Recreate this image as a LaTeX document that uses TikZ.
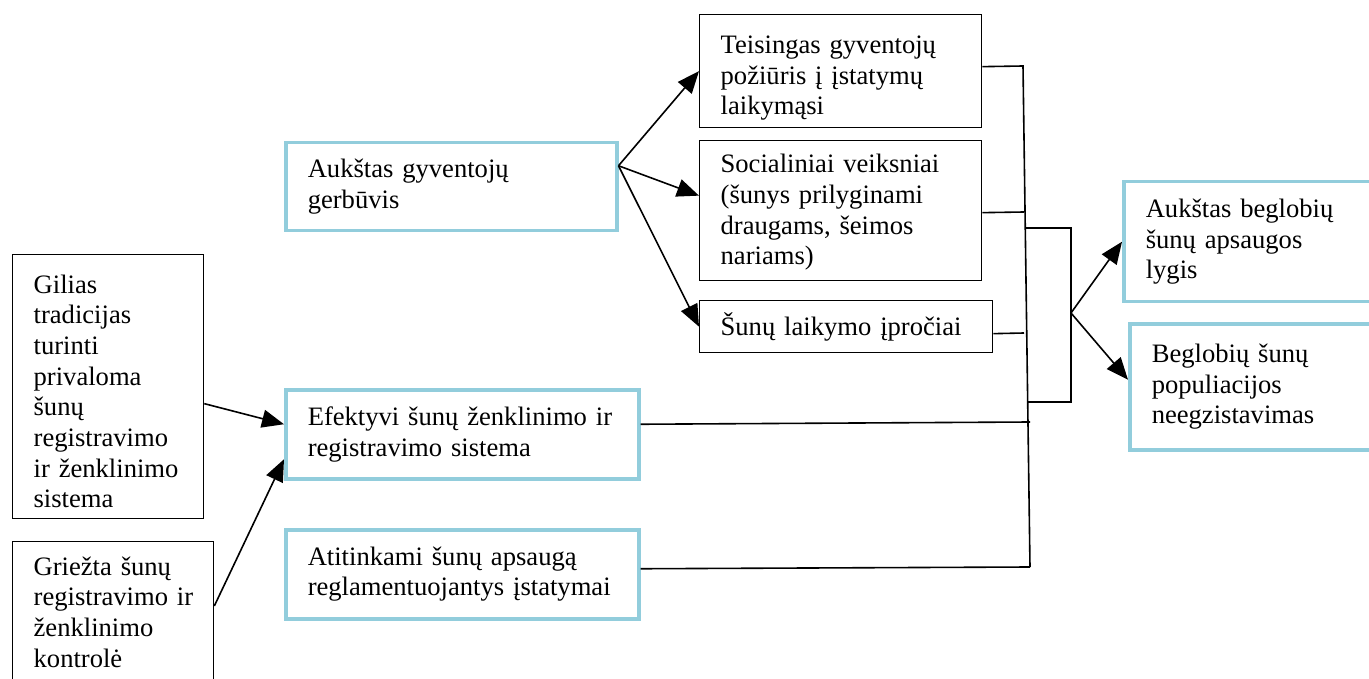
\documentclass[tikz,border=0pt]{standalone}
\usepackage{fontspec}
\setmainfont{Liberation Serif}
\usetikzlibrary{arrows.meta}
\definecolor{boxblue}{RGB}{146,205,220}
\newcommand\toprule[1]{\rule{0pt}{#1}}
\begin{document}
\begin{tikzpicture}[x=1pt,y=-1pt,
  every node/.style={font=\fontsize{26.6}{30.7}\selectfont},
  bbox/.style={draw=black,line width=1.3pt,anchor=north west,inner xsep=21pt,inner ysep=0pt,align=left},
  cbox/.style={draw=boxblue,line width=3.5pt,anchor=north west,inner xsep=22pt,inner ysep=0pt,align=left},
  arr/.style={line width=1.6pt,-{Triangle[length=22pt,width=18pt]}},
  ln/.style={line width=1.6pt}]
\useasboundingbox (0,0) rectangle (1369,679);
% top right column
\node[bbox,text width=240pt,minimum height=113pt] (T1) at (699,14) {\toprule{32pt}Teisingas gyventojų\\požiūris į įstatymų\\laikymąsi};
\node[bbox,text width=240pt,minimum height=140pt] (T2) at (699,140) {\toprule{22pt}Socialiniai veiksniai\\(šunys prilyginami\\draugams, šeimos\\nariams)};
\node[bbox,text width=251pt,minimum height=52pt] (T3) at (699,300) {Šunų laikymo įpročiai};
% middle column
\node[cbox,text width=287pt,minimum height=88pt] (A) at (284,141) {Aukštas gyventojų\\gerbūvis};
\node[cbox,text width=309pt,minimum height=89pt] (E) at (284,388) {Efektyvi šunų ženklinimo ir\\registravimo sistema};
\node[cbox,text width=309pt,minimum height=89pt] (At) at (284,528) {Atitinkami šunų apsaugą\\reglamentuojantys įstatymai};
% left column
\node[bbox,text width=149pt,minimum height=264pt] (G) at (12,254) {\toprule{28pt}Gilias\\tradicijas\\turinti\\privaloma\\šunų\\registravimo\\ir~ženklinimo\\sistema};
\node[bbox,text width=159pt,minimum height=141pt] (Gr) at (12,541) {Griežta~šunų\\registravimo~ir\\ženklinimo\\kontrolė};
% right column
\node[cbox,text width=236pt,minimum height=120pt] (R1) at (1122,180) {Aukštas beglobių\\šunų apsaugos\\lygis};
\node[cbox,text width=236pt,minimum height=126pt] (R2) at (1128,322) {Beglobių šunų\\populiacijos\\neegzistavimas};
% arrows from A
\draw[arr] ([yshift=21pt]A.east) -- (T1.west);
\draw[arr] ([yshift=21pt]A.east) -- ([yshift=15pt]T2.west);
\draw[arr] ([yshift=21pt]A.east) -- (T3.west);
% arrows into E
\draw[arr] ([yshift=-17pt]G.east) -- ([yshift=10pt]E.west);
\draw[arr] ([yshift=-65pt]Gr.north east) -- ([yshift=-25pt]E.west);
% bus
\coordinate (b1) at (1023,66);
\coordinate (b2) at (1024,212);
\coordinate (b3) at (1024,333);
\coordinate (b4) at (1030,422);
\coordinate (b5) at (1030,567);
\draw[ln] ([yshift=4.5pt]T1.east) -- (b1) -- (b5);
\draw[ln] ([yshift=-2pt]T2.east) -- (b2);
\draw[ln] ([yshift=-7pt]T3.east) -- (b3);
\draw[ln] ([yshift=10pt]E.east) -- (b4);
\draw[ln] ([yshift=5.5pt]At.east) -- (b5);
% bracket
\coordinate (k1) at (1025,228);
\coordinate (k2) at (1071,228);
\coordinate (k3) at (1071,402);
\coordinate (k4) at (1028,402);
\coordinate (km) at (1071,313);
\draw[ln] (k1) -- (k2) -- (k3) -- (k4);
\draw[arr] (km) -- (R1.west);
\draw[arr] (km) -- ([yshift=7pt]R2.west);
\end{tikzpicture}
\end{document}
